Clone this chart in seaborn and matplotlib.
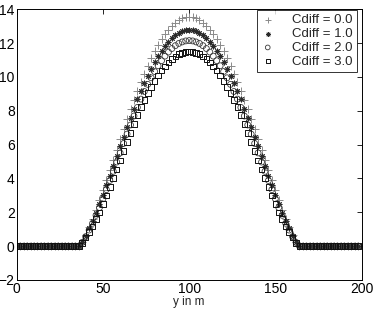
import matplotlib
matplotlib.use('Agg')
import pandas as pd
import matplotlib.pyplot as plt
import seaborn as sns

# positions along the section, every 2 m
y_pos = list(range(0, 200, 2))

# values (rising flank x=38..98, peak x=100, falling flank x=102..162)
cdiff_0 = ([0.0] * 19 +
           [0.27, 0.66, 1.12, 1.62, 2.15, 2.71, 3.29, 3.89, 4.49, 5.10, 5.71, 6.31, 6.91, 7.50, 8.08, 8.63,
            9.18, 9.69, 10.19, 10.66, 11.10, 11.51, 11.88, 12.22, 12.53, 12.80, 13.02, 13.21, 13.36, 13.46, 13.53,
            13.55,
            13.53, 13.46, 13.36, 13.21, 13.02, 12.80, 12.53, 12.22, 11.88, 11.51, 11.10, 10.66, 10.19, 9.69, 9.18,
            8.63, 8.08, 7.50, 6.91, 6.31, 5.71, 5.10, 4.49, 3.89, 3.29, 2.71, 2.15, 1.62, 1.12, 0.66, 0.27] +
           [0.0] * 18)
cdiff_1 = ([0.0] * 19 +
           [0.25, 0.62, 1.06, 1.48, 1.97, 2.49, 3.04, 3.60, 4.17, 4.75, 5.32, 5.89, 6.47, 7.03, 7.59, 8.13,
            8.67, 9.16, 9.63, 10.07, 10.48, 10.87, 11.23, 11.55, 11.84, 12.09, 12.30, 12.48, 12.62, 12.72, 12.78,
            12.80,
            12.78, 12.72, 12.62, 12.48, 12.30, 12.09, 11.84, 11.55, 11.23, 10.87, 10.48, 10.07, 9.63, 9.16, 8.67,
            8.13, 7.59, 7.03, 6.47, 5.89, 5.32, 4.75, 4.17, 3.60, 3.04, 2.49, 1.97, 1.48, 1.06, 0.62, 0.25] +
           [0.0] * 18)
cdiff_2 = ([0.0] * 19 +
           [0.22, 0.56, 0.95, 1.35, 1.82, 2.28, 2.80, 3.34, 3.88, 4.42, 4.97, 5.51, 6.07, 6.62, 7.16, 7.69,
            8.20, 8.69, 9.14, 9.56, 9.95, 10.32, 10.66, 10.96, 11.23, 11.47, 11.68, 11.85, 11.98, 12.07, 12.13,
            12.15,
            12.13, 12.07, 11.98, 11.85, 11.68, 11.47, 11.23, 10.96, 10.66, 10.32, 9.95, 9.56, 9.14, 8.69, 8.20,
            7.69, 7.16, 6.62, 6.07, 5.51, 4.97, 4.42, 3.88, 3.34, 2.80, 2.28, 1.82, 1.35, 0.95, 0.56, 0.22] +
           [0.0] * 18)
cdiff_3 = ([0.0] * 19 +
           [0.20, 0.50, 0.85, 1.17, 1.60, 2.00, 2.49, 3.00, 3.51, 4.03, 4.54, 5.06, 5.62, 6.17, 6.70, 7.23,
            7.74, 8.23, 8.65, 9.05, 9.42, 9.77, 10.09, 10.38, 10.63, 10.86, 11.05, 11.21, 11.34, 11.43, 11.48,
            11.50,
            11.48, 11.43, 11.34, 11.21, 11.05, 10.86, 10.63, 10.38, 10.09, 9.77, 9.42, 9.05, 8.65, 8.23, 7.74,
            7.23, 6.70, 6.17, 5.62, 5.06, 4.54, 4.03, 3.51, 3.00, 2.49, 2.00, 1.60, 1.17, 0.85, 0.50, 0.20] +
           [0.0] * 18)

etiquetas = ['Cdiff = 0.0', 'Cdiff = 1.0', 'Cdiff = 2.0', 'Cdiff = 3.0']
series = [cdiff_0, cdiff_1, cdiff_2, cdiff_3]

sns.set_style('white')
plt.rcParams['font.family'] = ['Liberation Sans', 'DejaVu Sans']
plt.rcParams['xtick.direction'] = 'in'
plt.rcParams['ytick.direction'] = 'in'

fig = plt.figure(figsize=(3.74, 3.09), dpi=100)
ax = fig.add_axes([0.0447, 0.094, 0.922, 0.876])

# estilo de cada serie: marcador, color, tamaño
estilos = [
    dict(marker='+', color='#8a8a8a', s=30, linewidth=0.7),
    dict(marker=(8, 2, 0), color='#2a2a2a', s=13, linewidth=0.7),
    dict(marker='o', facecolor='none', edgecolor='#3a3a3a', s=18, linewidth=0.6),
    dict(marker='s', facecolor='none', edgecolor='#111111', s=16, linewidth=0.7),
]

for valores, etiqueta, estilo in zip(series, etiquetas, estilos):
    df = pd.DataFrame({'y': y_pos, 'v': valores})
    sns.scatterplot(data=df, x='y', y='v', ax=ax, label=etiqueta, **estilo)

ax.set_xlim(0, 200)
ax.set_ylim(-2, 14)
ax.set_xticks([0, 50, 100, 150, 200])
ax.set_yticks(list(range(-2, 15, 2)))
ax.tick_params(axis='both', labelsize=10, length=3.5, width=0.6, pad=1.5,
               top=True, right=True, colors='black')
for s in ax.spines.values():
    s.set_color('black')
    s.set_linewidth(0.7)
ax.set_xlabel('y in m', fontsize=8.5, labelpad=0)
ax.set_ylabel('')

leg = ax.legend(loc='upper right', bbox_to_anchor=(0.986, 0.997), fontsize=9.5, frameon=True,
                fancybox=False, edgecolor='black', borderpad=0.3, labelspacing=0.12,
                handlelength=1.1, handletextpad=1.3, borderaxespad=0, markerscale=0.8)
leg.get_frame().set_linewidth(0.7)

fig.savefig('out.png', dpi=100)
